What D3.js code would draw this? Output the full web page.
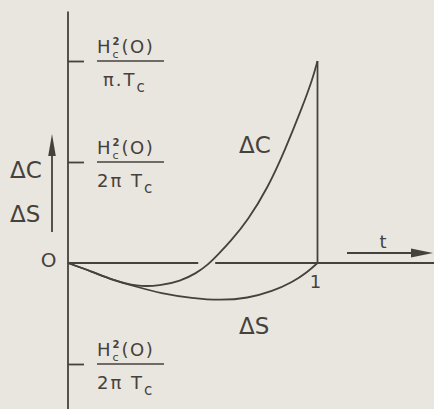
<!DOCTYPE html>
<html>
<head>
<meta charset="utf-8">
<script src="https://cdn.jsdelivr.net/npm/d3@7"></script>
<style>
  html, body { margin: 0; padding: 0; background: #e9e6df; }
  svg { display: block; }
  text { font-family: "DejaVu Sans", "Liberation Sans", sans-serif; fill: #45413c; }
</style>
</head>
<body>
<svg id="chart" width="434" height="409"></svg>
<script>
// Reduced temperature t = T / Tc
const tDeltaC = [0, 0.10, 0.18, 0.275, 0.37, 0.45, 0.515, 0.56, 0.60, 0.65, 0.72, 0.80, 0.87, 0.94, 0.98, 1.0];
// ΔC in units of Hc²(0) / (2π Tc)
const deltaC  = [0, -0.09, -0.17, -0.235, -0.225, -0.18, -0.10, -0.02, 0.08, 0.21, 0.42, 0.74, 1.12, 1.55, 1.82, 2.0];

const tDeltaS = [0, 0.10, 0.18, 0.275, 0.37, 0.50, 0.61, 0.72, 0.82, 0.90, 0.96, 1.0];
// ΔS in units of Hc²(0) / (2π Tc)
const deltaS  = [0, -0.09, -0.17, -0.235, -0.30, -0.35, -0.37, -0.35, -0.28, -0.19, -0.09, 0];

// Marked levels on the vertical axis (units of Hc²(0) / (2π Tc))
const tickValues = [2, 1, -1];
const tickDenominators = [["π.T", "c"], ["2π T", "c"], ["2π T", "c"]];

const ink = "#45413c";
const svg = d3.select("#chart");

const x = d3.scaleLinear().domain([0, 1]).range([68, 317.5]);
const y = d3.scaleLinear().domain([-1, 2]).range([364, 61]);

// vertical axis line running past the plotted range
svg.append("line")
  .attr("x1", x(0)).attr("x2", x(0))
  .attr("y1", y(2.49)).attr("y2", 409)
  .attr("stroke", ink).attr("stroke-width", 1.8);

// short ticks to the right of the axis
const yAxis = d3.axisRight(y).tickValues(tickValues).tickSize(16).tickFormat("");
const ya = svg.append("g").attr("transform", `translate(${x(0)},0)`).call(yAxis);
ya.select(".domain").remove();
ya.selectAll(".tick line").attr("stroke", ink).attr("stroke-width", 1.8);

// horizontal axis, interrupted where ΔC crosses it
const axisBreaks = [[0, 0.522], [0.59, 1.5]];
axisBreaks.forEach(([a, b]) => {
  svg.append("line")
    .attr("x1", x(a)).attr("x2", x(b))
    .attr("y1", y(0)).attr("y2", y(0))
    .attr("stroke", ink).attr("stroke-width", 1.8);
});

// vertical drop at t = 1
svg.append("line")
  .attr("x1", x(1)).attr("x2", x(1))
  .attr("y1", y(deltaC[deltaC.length - 1])).attr("y2", y(0))
  .attr("stroke", ink).attr("stroke-width", 1.8);

const line = d3.line().curve(d3.curveBasis);
svg.append("path")
  .attr("d", line(tDeltaC.map((t, i) => [x(t), y(deltaC[i])])))
  .attr("fill", "none").attr("stroke", ink).attr("stroke-width", 1.8);
svg.append("path")
  .attr("d", line(tDeltaS.map((t, i) => [x(t), y(deltaS[i])])))
  .attr("fill", "none").attr("stroke", ink).attr("stroke-width", 1.8);

// fraction labels next to the ticks: Hc²(O) over the denominator
tickValues.forEach((v, i) => {
  const ty = y(v);
  const x0 = 97;
  const g = svg.append("g");
  const h = g.append("text").attr("x", x0).attr("y", ty - 8)
    .attr("font-size", 18).text("H");
  const wH = h.node().getComputedTextLength();
  // superscript and subscript stacked in one column after the H
  g.append("text").attr("x", x0 + wH + 2).attr("y", ty - 16.5)
    .attr("font-size", 10).attr("font-weight", "bold").text("2");
  g.append("text").attr("x", x0 + wH + 2).attr("y", ty - 3.5)
    .attr("font-size", 11).text("c");
  g.append("text").attr("x", x0 + wH + 11).attr("y", ty - 8)
    .attr("font-size", 18).attr("letter-spacing", 1.5).text("(O)");
  // fraction bar
  g.append("line").attr("x1", x0).attr("x2", x0 + 67)
    .attr("y1", ty).attr("y2", ty)
    .attr("stroke", ink).attr("stroke-width", 1.6);
  const dx0 = i === 0 ? 103 : 97;
  const den = g.append("text").attr("x", dx0).attr("y", ty + 25)
    .attr("font-size", 18).attr("letter-spacing", 2);
  den.append("tspan").text(tickDenominators[i][0]);
  den.append("tspan").attr("dy", 6).attr("font-size", 15).text(tickDenominators[i][1]);
});

// origin label and vertical quantity arrow
svg.append("text").attr("x", 48.5).attr("y", 267).attr("text-anchor", "middle")
  .attr("font-size", 20).text("O");

const arrowX = 52;
svg.append("line").attr("x1", arrowX).attr("x2", arrowX)
  .attr("y1", 150).attr("y2", 232)
  .attr("stroke", ink).attr("stroke-width", 1.8);
svg.append("path")
  .attr("d", d3.line()([[arrowX, 134], [arrowX + 3.8, 156], [arrowX - 3.8, 156]]) + "Z")
  .attr("fill", ink);

svg.append("text").attr("x", 10).attr("y", 178).attr("font-size", 23).text("ΔC");
svg.append("text").attr("x", 10).attr("y", 222).attr("font-size", 23).text("ΔS");

// curve labels
svg.append("text").attr("x", 239).attr("y", 153).attr("font-size", 23).text("ΔC");
svg.append("text").attr("x", 239).attr("y", 334).attr("font-size", 23).text("ΔS");

// t = 1 label
svg.append("text").attr("x", x(1) - 2).attr("y", 288).attr("text-anchor", "middle")
  .attr("font-size", 18).text("1");

// t direction arrow
svg.append("line").attr("x1", 347).attr("x2", 415)
  .attr("y1", 253).attr("y2", 253)
  .attr("stroke", ink).attr("stroke-width", 1.8);
svg.append("path")
  .attr("d", d3.line()([[433, 253], [411, 248.5], [411, 257.5]]) + "Z")
  .attr("fill", ink);
svg.append("text").attr("x", 383).attr("y", 248).attr("text-anchor", "middle")
  .attr("font-size", 18).text("t");
</script>
</body>
</html>
